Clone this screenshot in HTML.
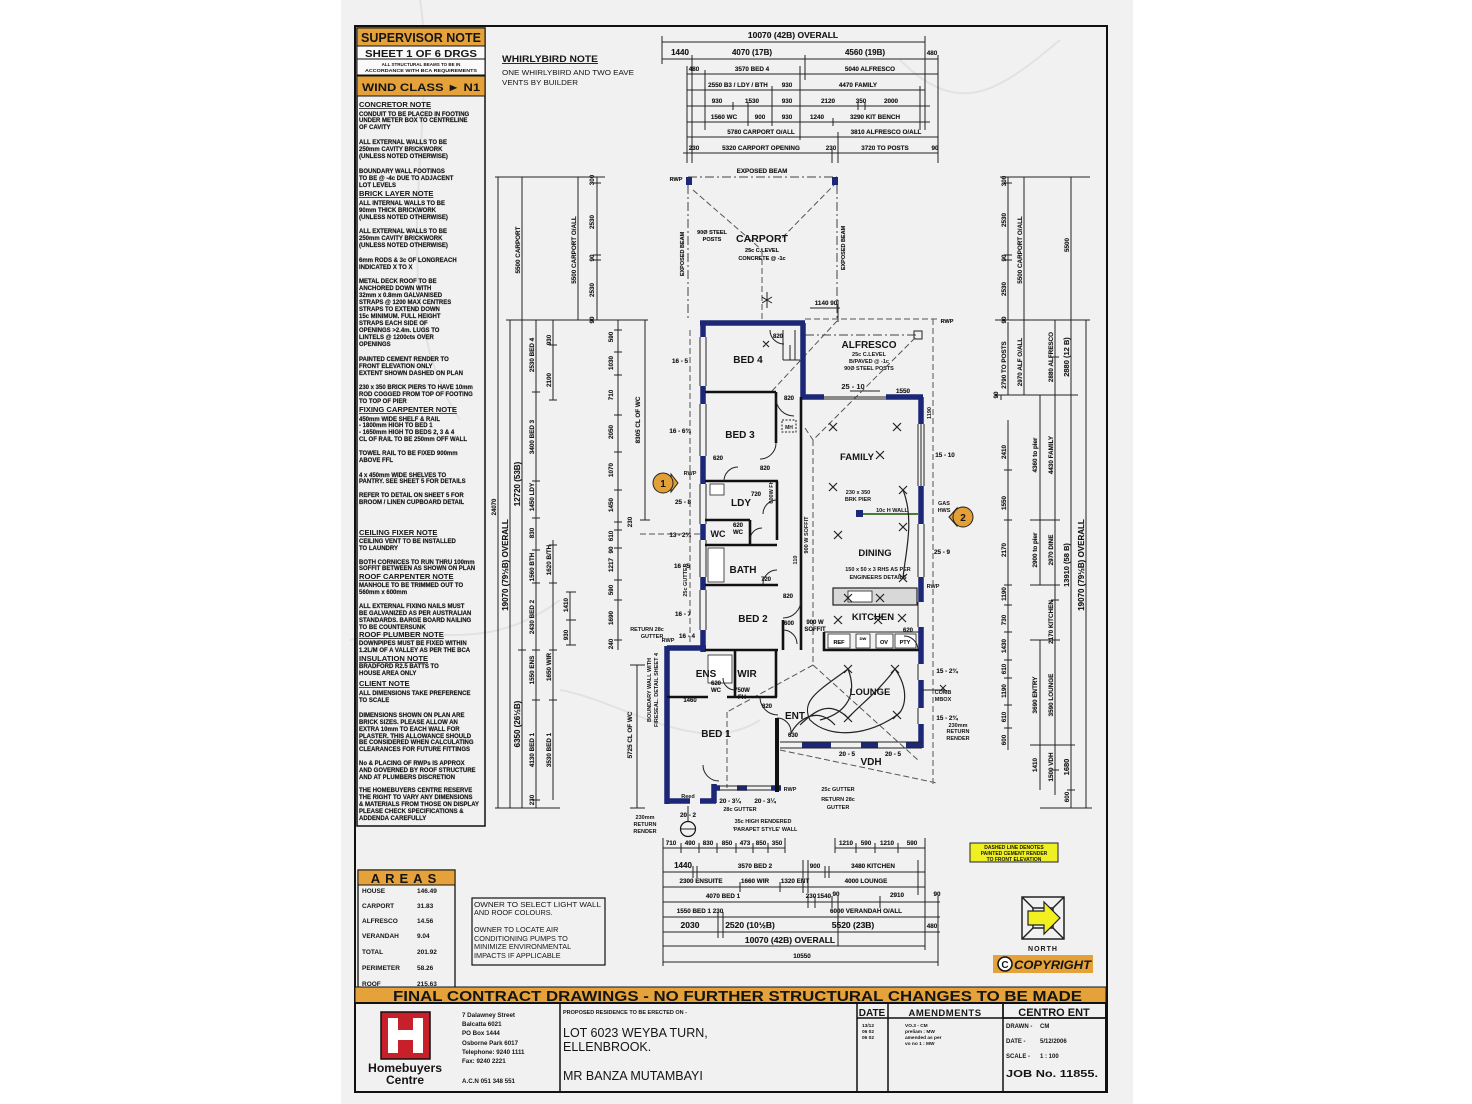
<!DOCTYPE html>
<html><head><meta charset="utf-8">
<style>
html,body{margin:0;padding:0;background:#fff;width:1472px;height:1104px;overflow:hidden}
svg{display:block}
text{font-family:"Liberation Sans",sans-serif;font-weight:bold;fill:#151515}
.n{font-size:6px;stroke:#151515;stroke-width:0.15}
.h{font-size:7.6px;text-decoration:underline}
.d{font-size:6.3px;stroke:#151515;stroke-width:0.12}
.d7{font-size:7.5px}
.r{font-size:10px}
.nw{font-weight:normal}
.w{stroke:#1c2777;stroke-width:5.5;fill:none}
.i{stroke:#111;stroke-width:2.6;fill:none}
.l{stroke:#222;stroke-width:1;fill:none}
.t{stroke:#222;stroke-width:1;fill:none}
.ds{stroke:#555;stroke-width:1;fill:none;stroke-dasharray:6 3}
.dd{stroke:#444;stroke-width:1;fill:none;stroke-dasharray:9 3 2 3}
.x{stroke:#222;stroke-width:1.2;fill:none}
</style></head><body>
<svg width="1472" height="1104" viewBox="0 0 1472 1104" xmlns="http://www.w3.org/2000/svg">
<rect x="0" y="0" width="1472" height="1104" fill="#fff"/>
<rect x="341" y="0" width="792" height="1104" fill="#f1f1f1"/>
<path d="M420,0 C440,120 380,300 460,420 M900,60 C960,120 1000,90 1060,40 M350,640 C420,620 480,660 560,600 M560,690 C620,700 700,760 760,720" stroke="#e2e2e2" stroke-width="2" fill="none"/>

<!-- outer border -->
<rect x="355" y="26" width="752" height="1066" fill="none" stroke="#111" stroke-width="2"/>

<!-- LEFT COLUMN -->
<rect x="357" y="28" width="128" height="798" fill="none" stroke="#111" stroke-width="1.5"/>
<rect x="357" y="28" width="128" height="18" fill="#e6a23a" stroke="#111" stroke-width="1"/>
<text x="361" y="42" style="font-size:12.5px" textLength="120" lengthAdjust="spacingAndGlyphs">SUPERVISOR NOTE</text>
<rect x="357" y="46" width="128" height="13" fill="#fafafa" stroke="#111" stroke-width="1"/>
<text x="421" y="57" text-anchor="middle" style="font-size:10px" textLength="112" lengthAdjust="spacingAndGlyphs">SHEET 1 OF 6 DRGS</text>
<rect x="357" y="59" width="128" height="16" fill="#fafafa" stroke="#111" stroke-width="1"/>
<text x="421" y="66" text-anchor="middle" style="font-size:4.5px">ALL STRUCTURAL BEAMS TO BE IN</text>
<text x="421" y="72" text-anchor="middle" style="font-size:4.5px" textLength="112" lengthAdjust="spacingAndGlyphs">ACCORDANCE WITH BCA REQUIREMENTS</text>
<rect x="357" y="76" width="128" height="20" fill="#e6a23a" stroke="#111" stroke-width="1"/>
<text x="362" y="91" style="font-size:11px" textLength="118" lengthAdjust="spacingAndGlyphs">WIND CLASS ► N1</text>

<text x="359" y="107" class="h">CONCRETOR NOTE</text>
<text class="n"><tspan x="359" y="116">CONDUIT TO BE PLACED IN FOOTING</tspan><tspan x="359" y="122">UNDER METER BOX TO CENTRELINE</tspan><tspan x="359" y="129">OF CAVITY</tspan>
<tspan x="359" y="144">ALL EXTERNAL WALLS TO BE</tspan><tspan x="359" y="151">250mm CAVITY BRICKWORK</tspan><tspan x="359" y="158">(UNLESS NOTED OTHERWISE)</tspan>
<tspan x="359" y="173">BOUNDARY WALL FOOTINGS</tspan><tspan x="359" y="180">TO BE @ -4c DUE TO ADJACENT</tspan><tspan x="359" y="187">LOT LEVELS</tspan></text>
<text x="359" y="196" class="h">BRICK LAYER NOTE</text>
<text class="n"><tspan x="359" y="205">ALL INTERNAL WALLS TO BE</tspan><tspan x="359" y="212">90mm THICK BRICKWORK</tspan><tspan x="359" y="219">(UNLESS NOTED OTHERWISE)</tspan>
<tspan x="359" y="233">ALL EXTERNAL WALLS TO BE</tspan><tspan x="359" y="240">250mm CAVITY BRICKWORK</tspan><tspan x="359" y="247">(UNLESS NOTED OTHERWISE)</tspan>
<tspan x="359" y="262">6mm RODS &amp; 3c OF LONGREACH</tspan><tspan x="359" y="269">INDICATED X TO X</tspan>
<tspan x="359" y="283">METAL DECK ROOF TO BE</tspan><tspan x="359" y="290">ANCHORED DOWN WITH</tspan><tspan x="359" y="297">32mm x 0.8mm GALVANISED</tspan><tspan x="359" y="304">STRAPS @ 1200 MAX CENTRES</tspan><tspan x="359" y="311">STRAPS TO EXTEND DOWN</tspan><tspan x="359" y="318">15c MINIMUM. FULL HEIGHT</tspan><tspan x="359" y="325">STRAPS EACH SIDE OF</tspan><tspan x="359" y="332">OPENINGS &gt;2.4m. LUGS TO</tspan><tspan x="359" y="339">LINTELS @ 1200cts OVER</tspan><tspan x="359" y="346">OPENINGS</tspan>
<tspan x="359" y="361">PAINTED CEMENT RENDER TO</tspan><tspan x="359" y="368">FRONT ELEVATION ONLY</tspan><tspan x="359" y="375">EXTENT SHOWN DASHED ON PLAN</tspan>
<tspan x="359" y="389">230 x 350 BRICK PIERS TO HAVE 10mm</tspan><tspan x="359" y="396">ROD COGGED FROM TOP OF FOOTING</tspan><tspan x="359" y="403">TO TOP OF PIER</tspan></text>
<text x="359" y="412" class="h">FIXING CARPENTER NOTE</text>
<text class="n"><tspan x="359" y="421">450mm WIDE SHELF &amp; RAIL</tspan><tspan x="359" y="427">- 1800mm HIGH TO BED 1</tspan><tspan x="359" y="434">- 1650mm HIGH TO BEDS 2, 3 &amp; 4</tspan><tspan x="359" y="441">CL OF RAIL TO BE 250mm OFF WALL</tspan>
<tspan x="359" y="455">TOWEL RAIL TO BE FIXED 900mm</tspan><tspan x="359" y="462">ABOVE FFL</tspan>
<tspan x="359" y="477">4 x 450mm WIDE SHELVES TO</tspan><tspan x="359" y="483">PANTRY. SEE SHEET 5 FOR DETAILS</tspan>
<tspan x="359" y="497">REFER TO DETAIL ON SHEET 5 FOR</tspan><tspan x="359" y="504">BROOM / LINEN CUPBOARD DETAIL</tspan></text>
<text x="359" y="535" class="h">CEILING FIXER NOTE</text>
<text class="n"><tspan x="359" y="543">CEILING VENT TO BE INSTALLED</tspan><tspan x="359" y="550">TO LAUNDRY</tspan>
<tspan x="359" y="564">BOTH CORNICES TO RUN THRU 100mm</tspan><tspan x="359" y="570">SOFFIT BETWEEN AS SHOWN ON PLAN</tspan></text>
<text x="359" y="579" class="h">ROOF CARPENTER NOTE</text>
<text class="n"><tspan x="359" y="587">MANHOLE TO BE TRIMMED OUT TO</tspan><tspan x="359" y="594">560mm x 600mm</tspan>
<tspan x="359" y="608">ALL EXTERNAL FIXING NAILS MUST</tspan><tspan x="359" y="615">BE GALVANIZED AS PER AUSTRALIAN</tspan><tspan x="359" y="622">STANDARDS. BARGE BOARD NAILING</tspan><tspan x="359" y="629">TO BE COUNTERSUNK</tspan></text>
<text x="359" y="637" class="h">ROOF PLUMBER NOTE</text>
<text class="n"><tspan x="359" y="645">DOWNPIPES MUST BE FIXED WITHIN</tspan><tspan x="359" y="652">1.2L/M OF A VALLEY AS PER THE BCA</tspan></text>
<text x="359" y="661" class="h">INSULATION NOTE</text>
<text class="n"><tspan x="359" y="668">BRADFORD R2.5 BATTS TO</tspan><tspan x="359" y="675">HOUSE AREA ONLY</tspan></text>
<text x="359" y="686" class="h">CLIENT NOTE</text>
<text class="n"><tspan x="359" y="695">ALL DIMENSIONS TAKE PREFERENCE</tspan><tspan x="359" y="702">TO SCALE</tspan>
<tspan x="359" y="717">DIMENSIONS SHOWN ON PLAN ARE</tspan><tspan x="359" y="724">BRICK SIZES. PLEASE ALLOW AN</tspan><tspan x="359" y="731">EXTRA 10mm TO EACH WALL FOR</tspan><tspan x="359" y="738">PLASTER. THIS ALLOWANCE SHOULD</tspan><tspan x="359" y="744">BE CONSIDERED WHEN CALCULATING</tspan><tspan x="359" y="751">CLEARANCES FOR FUTURE FITTINGS</tspan>
<tspan x="359" y="765">No &amp; PLACING OF RWPs IS APPROX</tspan><tspan x="359" y="772">AND GOVERNED BY ROOF STRUCTURE</tspan><tspan x="359" y="779">AND AT PLUMBERS DISCRETION</tspan>
<tspan x="359" y="792">THE HOMEBUYERS CENTRE RESERVE</tspan><tspan x="359" y="799">THE RIGHT TO VARY ANY DIMENSIONS</tspan><tspan x="359" y="806">&amp; MATERIALS FROM THOSE ON DISPLAY</tspan><tspan x="359" y="813">PLEASE CHECK SPECIFICATIONS &amp;</tspan><tspan x="359" y="820">ADDENDA CAREFULLY</tspan></text>

<!-- WHIRLYBIRD -->
<text x="502" y="62" style="font-size:9px;text-decoration:underline" textLength="96" lengthAdjust="spacingAndGlyphs">WHIRLYBIRD NOTE</text>
<text x="502" y="75" class="nw" style="font-size:7.5px" textLength="132" lengthAdjust="spacingAndGlyphs">ONE WHIRLYBIRD AND TWO EAVE</text>
<text x="502" y="85" class="nw" style="font-size:7.5px" textLength="76" lengthAdjust="spacingAndGlyphs">VENTS BY BUILDER</text>

<!-- TOP DIMENSIONS -->
<g class="t">
<path d="M662,42 H925 M662,59 H938 M687,74 H938 M687,90 H925 M687,106 H930 M687,122 H930 M687,137 H938 M683,153 H938"/>
<path d="M662,36 V64 M925,36 V130 M692,55 V163 M687,66 V163 M705,70 V130 M805,55 V80 M800,66 V140 M938,55 V163 M838,132 V163 M832,148 V163 M772,86 V126 M748,102 V126 M733,102 V110 M858,102 V110 M865,102 V110 M920,86 V130 M833,118 V126"/>
</g>
<g class="d" text-anchor="middle">
<text x="793" y="38" style="font-size:8.5px">10070 (42B) OVERALL</text>
<text x="680" y="55" style="font-size:8px">1440</text><text x="752" y="55" style="font-size:8px">4070 (17B)</text><text x="865" y="55" style="font-size:8px">4560 (19B)</text><text x="932" y="55">480</text>
<text x="694" y="71">480</text><text x="752" y="71">3570 BED 4</text><text x="870" y="71">5040 ALFRESCO</text>
<text x="738" y="87">2550 B3 / LDY / BTH</text><text x="787" y="87">930</text><text x="858" y="87">4470 FAMILY</text>
<text x="717" y="103">930</text><text x="752" y="103">1530</text><text x="787" y="103">930</text><text x="828" y="103">2120</text><text x="861" y="103">350</text><text x="891" y="103">2000</text>
<text x="724" y="119">1560 WC</text><text x="760" y="119">900</text><text x="787" y="119">930</text><text x="817" y="119">1240</text><text x="875" y="119">3290 KIT BENCH</text>
<text x="761" y="134">5780 CARPORT O/ALL</text><text x="886" y="134">3810 ALFRESCO O/ALL</text>
<text x="694" y="150">230</text><text x="761" y="150">5320 CARPORT OPENING</text><text x="831" y="150">230</text><text x="885" y="150">3720 TO POSTS</text><text x="935" y="150">90</text>
</g>

<!-- CARPORT -->
<path class="dd" d="M688,177 H837 M688,185 V320 M837,185 V320"/>
<path class="ds" d="M693,190 L762,250 M837,182 L780,240 M762,250 V320"/>
<rect x="686" y="177" width="6" height="8" fill="#1c2777"/>
<rect x="832" y="177" width="6" height="8" fill="#1c2777"/>
<text x="676" y="181" class="d" text-anchor="middle" style="font-size:5.5px">RWP</text>
<text x="762" y="173" class="d" text-anchor="middle">EXPOSED BEAM</text>
<text x="762" y="242" text-anchor="middle" style="font-size:10.5px">CARPORT</text>
<text x="762" y="252" class="d" text-anchor="middle" style="font-size:5.5px">25c C.LEVEL</text>
<text x="762" y="260" class="d" text-anchor="middle" style="font-size:5.5px">CONCRETE @ -1c</text>
<text x="712" y="234" class="d" text-anchor="middle" style="font-size:5.5px">90Ø STEEL</text>
<text x="712" y="241" class="d" text-anchor="middle" style="font-size:5.5px">POSTS</text>
<text transform="translate(684,254) rotate(-90)" class="d" text-anchor="middle" style="font-size:5.5px">EXPOSED BEAM</text>
<text transform="translate(845,248) rotate(-90)" class="d" text-anchor="middle" style="font-size:5.5px">EXPOSED BEAM</text>
<path class="l" d="M767,292 V308 M762,297 L772,303 M762,303 L772,297"/>
<text x="826" y="305" class="d" text-anchor="middle">1140 90</text>
<path class="t" d="M810,308 H840 M838,300 V322"/>

<!-- ALFRESCO -->
<path class="ds" d="M805,319 H937"/>
<path class="dd" d="M805,335 H917"/>
<rect x="914" y="331" width="8" height="8" fill="none" stroke="#222"/>
<text x="947" y="323" class="d" text-anchor="middle" style="font-size:5.5px">RWP</text>
<text x="869" y="348" text-anchor="middle" style="font-size:10px">ALFRESCO</text>
<text x="869" y="356" text-anchor="middle" style="font-size:5.5px">25c C.LEVEL</text>
<text x="869" y="363" text-anchor="middle" style="font-size:5.5px">B/PAVED @ -1c</text>
<text x="869" y="370" text-anchor="middle" style="font-size:5.5px">90Ø STEEL POSTS</text>
<text x="853" y="389" class="d7" text-anchor="middle">25 - 10</text>
<text x="903" y="393" class="d" text-anchor="middle">1550</text>
<path class="l" d="M850,391 H880"/>

<!-- roof hips / eaves -->
<path class="ds" d="M772,391 L837,321 M805,428 L813,440 L917,336 M813,440 V665 M933,319 V785 M690,330 V645 M813,665 L727,712 M727,712 V788 M813,665 L918,760 M780,750 L937,783 M640,534 H700"/>

<!-- WALLS (navy) -->
<path class="w" d="M700,323 H805 M803,323 V399 M801,397 H824 M886,397 H923 M921,397 V424 M921,486 V524 M921,577 V602 M921,627 V664 M921,680 V708 M921,724 V748 M802,745 H831 M861,745 H878 M906,745 H923"/>
<path class="w" d="M703,321 V337 M703,386 V404 M703,456 V484 M703,524 V540 M703,577 V590 M703,630 V652 M667,648 H706 M667,646 V804 M665,801 H690 M700,801 H716 M714,784 V803 M714,788 H720 M737,788 H747 M771,788 H781"/>
<path class="l" d="M700,337 V386 M706,337 V386 M700,404 V456 M706,404 V456 M700,484 V524 M706,484 V524 M700,540 V577 M706,540 V577 M700,590 V630 M706,590 V630 M921,424 V486 M918,424 V486 M924,424 V486 M918,524 V577 M924,524 V577 M824,397 H886 M824,399 H886 M780,742 H922 M780,748 H922 M720,786 H771 M720,790 H771 M918,602 V627 M918,664 V680 M918,708 V724"/>
<path d="M777,718 V792" stroke="#111" stroke-width="4" fill="none"/>

<!-- INTERIOR WALLS -->
<path class="i" d="M705,392 H776 M776,392 V443 M705,481 H778 M777,481 V540 M705,520 H750 M750,520 V545 M705,545 H777 M705,585 H778 M801,397 V650 M783,620 V650 M705,650 H778 M735,650 V697 M776,650 V697 M667,697 H708 M727,697 H777 M824,632 V650 H919"/>
<path class="l" d="M824,632 H919 M783,330 V360 M795,330 V360 M783,360 H800 M790,345 V360"/>
<rect x="833" y="588" width="84" height="17" fill="#d8d8d8" stroke="#222" stroke-width="1.2"/>
<rect x="848" y="591" width="24" height="11" fill="#fff" stroke="#222" stroke-width="0.8"/>
<g fill="#fff" stroke="#222" stroke-width="0.8">
<rect x="828" y="634" width="22" height="14"/><rect x="856" y="634" width="14" height="14"/><rect x="876" y="634" width="17" height="14"/><rect x="895" y="634" width="21" height="14"/>
<rect x="710" y="484" width="14" height="11"/><rect x="708" y="655" width="24" height="28"/>
<rect x="708" y="548" width="16" height="34"/>
</g>
<g class="d" text-anchor="middle" style="font-size:5.5px">
<text x="839" y="644">REF</text><text x="863" y="640" style="font-size:4px">DW</text><text x="884" y="644">OV</text><text x="905" y="644">PTY</text>
</g>
<rect x="782" y="420" width="14" height="12" fill="none" stroke="#222" stroke-dasharray="2 1.5"/>
<text x="789" y="429" text-anchor="middle" style="font-size:5px">MH</text>

<!-- door arcs -->
<g class="l">
<path d="M776,443 A16,16 0 0 1 760,459 M776,398 A18,18 0 0 0 794,416 M770,330 A14,14 0 0 0 784,344 M724,481 A14,14 0 0 1 738,467 M777,500 A14,14 0 0 0 763,514 M750,540 A12,12 0 0 1 762,528 M777,570 A14,14 0 0 0 763,584 M801,600 A18,18 0 0 1 783,618 M783,630 A14,14 0 0 1 797,644 M735,690 A12,12 0 0 1 723,678 M760,697 A18,18 0 0 0 778,715 M777,718 A14,14 0 0 1 791,732 M918,650 A14,14 0 0 0 904,636 M703,765 A16,16 0 0 0 719,781"/>
</g>
<g class="d" text-anchor="middle" style="font-size:6px">
<text x="778" y="338">820</text><text x="789" y="400">820</text><text x="765" y="470">820</text><text x="718" y="460">620</text><text x="756" y="496">720</text>
<text x="738" y="527">620</text><text x="738" y="534">WC</text><text x="766" y="581">720</text><text x="788" y="598">820</text><text x="789" y="625">600</text>
<text x="716" y="685">620</text><text x="716" y="692">WC</text><text x="742" y="692">750W</text><text x="742" y="699">FH</text><text x="767" y="708">820</text><text x="793" y="737">630</text><text x="908" y="632">620</text>
<text x="815" y="624">900 W</text><text x="815" y="631">SOFFIT</text><text x="690" y="702">1460</text>
</g>
<text transform="translate(808,535) rotate(-90)" text-anchor="middle" style="font-size:5.5px">900 W SOFFIT</text>
<text transform="translate(797,560) rotate(-90)" text-anchor="middle" style="font-size:5.5px">110</text>
<text transform="translate(773,492) rotate(-90)" text-anchor="middle" style="font-size:5.5px">600W FH</text>

<!-- ROOM LABELS -->
<g text-anchor="middle" style="font-size:10px">
<text x="748" y="363">BED 4</text><text x="740" y="438">BED 3</text><text x="741" y="506">LDY</text><text x="718" y="537" style="font-size:9px">WC</text>
<text x="743" y="573">BATH</text><text x="753" y="622">BED 2</text><text x="706" y="677">ENS</text><text x="747" y="677">WIR</text>
<text x="716" y="737">BED 1</text><text x="795" y="719">ENT</text><text x="871" y="765">VDH</text>
<text x="873" y="620" style="font-size:9.5px">KITCHEN</text><text x="870" y="695" style="font-size:9.5px">LOUNGE</text>
<text x="857" y="460" style="font-size:9.5px">FAMILY</text><text x="875" y="556" style="font-size:9.5px">DINING</text>
</g>
<g text-anchor="middle" style="font-size:5.5px">
<text x="878" y="571">150 x 50 x 3 RHS AS PER</text><text x="878" y="579">ENGINEERS DETAILS</text>
<text x="858" y="494">230 x 350</text><text x="858" y="501">BRK PIER</text>
<text x="892" y="512">10c H WALL</text>
<text x="944" y="505">GAS</text><text x="944" y="512">HWS</text>
<text x="943" y="694">COMB</text><text x="943" y="701">MBOX</text>
<text x="958" y="727">230mm</text><text x="958" y="733">RETURN</text><text x="958" y="740">RENDER</text>
<text x="645" y="819">230mm</text><text x="645" y="826">RETURN</text><text x="645" y="833">RENDER</text>
<text x="838" y="791">25c GUTTER</text><text x="838" y="801">RETURN 28c</text><text x="838" y="809">GUTTER</text>
<text x="740" y="811">28c GUTTER</text>
<text x="763" y="823">35c HIGH RENDERED</text><text x="765" y="831">'PARAPET STYLE' WALL</text>
<text x="647" y="631">RETURN 28c</text><text x="652" y="638">GUTTER</text>
<text x="668" y="642">RWP</text><text x="690" y="475">RWP</text><text x="933" y="588">RWP</text><text x="790" y="791">RWP</text>
<text x="688" y="798">Reed</text>
</g>
<path d="M860,514 H918" stroke="#4a7a3a" stroke-width="2"/>
<rect x="856" y="510" width="7" height="7" fill="#1c2777"/>
<text transform="translate(687,580) rotate(-90)" text-anchor="middle" style="font-size:5.5px">25c GUTTER</text>
<text transform="translate(651,690) rotate(-90)" text-anchor="middle" style="font-size:5.5px">BOUNDARY WALL WITH</text>
<text transform="translate(658,690) rotate(-90)" text-anchor="middle" style="font-size:5.5px">FIRESEAL. DETAIL SHEET 4</text>
<text transform="translate(931,413) rotate(-90)" text-anchor="middle" style="font-size:5.5px">1190</text>

<!-- small plan dims -->
<g class="d" text-anchor="middle">
<text x="680" y="363">16 - 5</text><text x="680" y="433">16 - 6¾</text><text x="683" y="504">25 - 8</text><text x="680" y="537">13 - 2¾</text>
<text x="682" y="568">16 - 5</text><text x="683" y="616">16 - 7</text><text x="687" y="638">16 - 4</text>
<text x="945" y="457">15 - 10</text><text x="942" y="554">25 - 9</text><text x="947" y="673">15 - 2¾</text><text x="947" y="720">15 - 2¾</text>
<text x="847" y="756">20 - 5</text><text x="893" y="756">20 - 5</text><text x="730" y="803">20 - 3¼</text><text x="765" y="803">20 - 3¼</text><text x="688" y="817">20 - 2</text>
</g>
<circle cx="688" cy="829" r="7.5" fill="none" stroke="#111" stroke-width="1.2"/>
<path class="l" d="M680.5,829 H695.5 M688,806 V821"/>

<!-- light symbols -->
<g class="x">
<path d="M829,423 l8,8 m0,-8 l-8,8 M893,423 l8,8 m0,-8 l-8,8 M876,451 l8,8 m0,-8 l-8,8 M829,483 l8,8 m0,-8 l-8,8 M899,486 l8,8 m0,-8 l-8,8 M834,531 l8,8 m0,-8 l-8,8 M899,523 l8,8 m0,-8 l-8,8 M899,574 l8,8 m0,-8 l-8,8 M834,616 l8,8 m0,-8 l-8,8 M874,616 l8,8 m0,-8 l-8,8 M898,614 l8,8 m0,-8 l-8,8 M844,594 l8,8 m0,-8 l-8,8 M876,594 l8,8 m0,-8 l-8,8 M844,665 l8,8 m0,-8 l-8,8 M891,665 l8,8 m0,-8 l-8,8 M844,714 l8,8 m0,-8 l-8,8 M893,711 l8,8 m0,-8 l-8,8 M763,341 l6,6 m0,-6 l-6,6"/>
<path d="M903,490 C915,520 905,555 903,578 M848,669 C820,690 800,700 810,720 C830,740 870,735 897,715 M848,669 C860,700 840,715 820,720 M895,669 C880,690 860,705 848,718 M895,669 C910,690 905,710 897,715 M800,725 C815,710 830,700 848,718 M790,735 C800,715 820,708 835,725"/>
</g>
<path class="l" d="M921,690 H945 M940,685 l6,6 m0,-6 l-6,6"/>

<!-- markers -->
<path d="M671,474 L678,483 L671,492 Z" fill="#e2a036" stroke="#222"/>
<circle cx="663" cy="483" r="10" fill="#e2a036" stroke="#222" stroke-width="1"/>
<text x="663" y="487" text-anchor="middle" style="font-size:10px">1</text>
<path d="M949,517 L957,508 L957,526 Z" fill="#e2a036" stroke="#222"/>
<circle cx="963" cy="517" r="10" fill="#e2a036" stroke="#222" stroke-width="1"/>
<text x="963" y="521" text-anchor="middle" style="font-size:10px">2</text>

<!-- LEFT DIMENSIONS -->
<g class="t">
<path d="M498,177 V808 M510,320 V808 M522,177 V808 M536,320 V808 M553,320 V400 M553,540 V650 M553,650 V800 M570,592 V645 M578,177 V320 M597,177 V320 M618,320 V650 M645,320 V520 M637,665 V808"/>
<path d="M495,177 H605 M506,320 H648 M495,808 H560 M630,808 H645 M630,665 H645 M640,520 H650"/>
<path d="M532,392 h8 M532,481 h8 M532,518 h8 M532,550 h8 M532,583 h8 M532,650 h8 M532,700 h8 M532,800 h8 M549,345 h8 M549,400 h8 M549,545 h8 M549,583 h8 M549,650 h8 M549,700 h8 M566,592 h10 M566,620 h10 M566,645 h10 M593,183 h8 M593,255 h8 M593,260 h8 M614,330 h8 M614,352 h8 M614,375 h8 M614,415 h8 M614,452 h8 M614,490 h8 M614,522 h8 M614,530 h8 M614,548 h8 M614,580 h8 M614,600 h8 M614,640 h8 M518,650 h8"/>
</g>
<g class="d" text-anchor="middle">
<text transform="translate(496,507) rotate(-90)" style="font-size:6px">24070</text>
<text transform="translate(508,565) rotate(-90)" style="font-size:8px">19070 (79½B) OVERALL</text>
<text transform="translate(520,250) rotate(-90)">5500 CARPORT</text>
<text transform="translate(520,484) rotate(-90)" style="font-size:8px">12720 (53B)</text>
<text transform="translate(520,724) rotate(-90)" style="font-size:8px">6350 (26½B)</text>
<text transform="translate(534,355) rotate(-90)">2530 BED 4</text>
<text transform="translate(534,437) rotate(-90)">3400 BED 3</text>
<text transform="translate(534,497) rotate(-90)">1450 LDY</text>
<text transform="translate(534,533) rotate(-90)">830</text>
<text transform="translate(534,567) rotate(-90)">1560 BTH</text>
<text transform="translate(534,617) rotate(-90)">2430 BED 2</text>
<text transform="translate(534,670) rotate(-90)">1550 ENS</text>
<text transform="translate(534,750) rotate(-90)">4130 BED 1</text>
<text transform="translate(534,800) rotate(-90)">230</text>
<text transform="translate(551,340) rotate(-90)">930</text>
<text transform="translate(551,380) rotate(-90)">2100</text>
<text transform="translate(551,560) rotate(-90)">1620 B/TH</text>
<text transform="translate(568,605) rotate(-90)">1410</text>
<text transform="translate(568,635) rotate(-90)">930</text>
<text transform="translate(551,667) rotate(-90)">1650 WIR</text>
<text transform="translate(551,750) rotate(-90)">3530 BED 1</text>
<text transform="translate(576,250) rotate(-90)">5500 CARPORT O/ALL</text>
<text transform="translate(594,180) rotate(-90)">300</text>
<text transform="translate(594,222) rotate(-90)">2530</text>
<text transform="translate(594,258) rotate(-90)">90</text>
<text transform="translate(594,290) rotate(-90)">2530</text>
<text transform="translate(594,320) rotate(-90)">90</text>
<text transform="translate(613,337) rotate(-90)">590</text>
<text transform="translate(613,363) rotate(-90)">1030</text>
<text transform="translate(613,395) rotate(-90)">710</text>
<text transform="translate(613,432) rotate(-90)">2050</text>
<text transform="translate(613,470) rotate(-90)">1070</text>
<text transform="translate(613,505) rotate(-90)">1450</text>
<text transform="translate(613,536) rotate(-90)">610</text>
<text transform="translate(613,550) rotate(-90)">90</text>
<text transform="translate(613,565) rotate(-90)">1217</text>
<text transform="translate(613,590) rotate(-90)">590</text>
<text transform="translate(613,618) rotate(-90)">1690</text>
<text transform="translate(613,644) rotate(-90)">240</text>
<text transform="translate(632,522) rotate(-90)">230</text>
<text transform="translate(640,420) rotate(-90)">8305 CL OF WC</text>
<text transform="translate(632,735) rotate(-90)">5725 CL OF WC</text>
</g>

<!-- RIGHT DIMENSIONS -->
<g class="t">
<path d="M1008,177 V320 M1008,322 V395 M1008,420 V750 M1024,177 V320 M1024,320 V395 M1040,395 V585 M1040,640 V790 M1055,320 V795 M1071,177 V808 M1086,320 V808 M1001,395 V400"/>
<path d="M1000,177 H1090 M995,320 H1090 M995,395 H1078 M1040,808 H1092 M1030,745 H1075 M1030,640 H1060 M1030,585 H1060 M1030,520 H1060"/>
<path d="M1004,183 h8 M1004,255 h8 M1004,260 h8 M1004,470 h8 M1004,520 h8 M1004,585 h8 M1004,605 h8 M1004,632 h8 M1004,660 h8 M1004,678 h8 M1004,705 h8 M1004,728 h8 M1051,357 h8 M1051,600 h8 M1051,770 h8 M1067,790 h8"/>
</g>
<g class="d" text-anchor="middle">
<text transform="translate(1006,181) rotate(-90)">300</text>
<text transform="translate(1006,220) rotate(-90)">2530</text>
<text transform="translate(1006,258) rotate(-90)">90</text>
<text transform="translate(1006,289) rotate(-90)">2530</text>
<text transform="translate(1006,320) rotate(-90)">90</text>
<text transform="translate(1006,365) rotate(-90)">2790 TO POSTS</text>
<text transform="translate(998,395) rotate(-90)">90</text>
<text transform="translate(1006,452) rotate(-90)">2410</text>
<text transform="translate(1006,503) rotate(-90)">1550</text>
<text transform="translate(1006,550) rotate(-90)">2170</text>
<text transform="translate(1006,594) rotate(-90)">1190</text>
<text transform="translate(1006,620) rotate(-90)">730</text>
<text transform="translate(1006,646) rotate(-90)">1430</text>
<text transform="translate(1006,669) rotate(-90)">610</text>
<text transform="translate(1006,691) rotate(-90)">1190</text>
<text transform="translate(1006,717) rotate(-90)">610</text>
<text transform="translate(1006,740) rotate(-90)">600</text>
<text transform="translate(1022,250) rotate(-90)">5500 CARPORT O/ALL</text>
<text transform="translate(1022,362) rotate(-90)">2970 ALF O/ALL</text>
<text transform="translate(1037,455) rotate(-90)">4360 to pier</text>
<text transform="translate(1037,550) rotate(-90)">2900 to pier</text>
<text transform="translate(1037,695) rotate(-90)">3690 ENTRY</text>
<text transform="translate(1037,765) rotate(-90)">1410</text>
<text transform="translate(1053,357) rotate(-90)">2880 ALFRESCO</text>
<text transform="translate(1053,455) rotate(-90)">4430 FAMILY</text>
<text transform="translate(1053,550) rotate(-90)">2970 DINE</text>
<text transform="translate(1053,622) rotate(-90)">2170 KITCHEN</text>
<text transform="translate(1053,695) rotate(-90)">3590 LOUNGE</text>
<text transform="translate(1053,767) rotate(-90)">1500 VDH</text>
<text transform="translate(1069,245) rotate(-90)">5500</text>
<text transform="translate(1069,357) rotate(-90)" style="font-size:7.5px">2880 (12 B)</text>
<text transform="translate(1069,565) rotate(-90)" style="font-size:7.5px">13910 (58 B)</text>
<text transform="translate(1069,767) rotate(-90)" style="font-size:7.5px">1680</text>
<text transform="translate(1069,797) rotate(-90)">600</text>
<text transform="translate(1084,565) rotate(-90)" style="font-size:8px">19070 (79½B) OVERALL</text>
</g>

<!-- BOTTOM DIMENSIONS -->
<g class="t">
<path d="M663,848 H785 M835,848 H925 M663,872 H925 M663,887 H925 M663,902 H940 M663,917 H940 M663,932 H940 M663,946 H925 M663,962 H938"/>
<path d="M663,838 V966 M681,843 V853 M699,843 V853 M717,843 V853 M736,843 V853 M753,843 V853 M768,843 V853 M785,838 V853 M835,838 V853 M856,843 V853 M875,843 V853 M898,843 V853 M925,838 V950 M693,866 V878 M697,866 V878 M803,860 V893 M808,860 V893 M825,866 V878 M829,866 V878 M740,882 V892 M780,882 V892 M918,860 V895 M808,896 V908 M815,896 V908 M832,896 V908 M838,896 V908 M880,896 V908 M938,896 V966 M838,908 V946 M718,912 V938 M723,912 V938 M938,917 V936"/>
</g>
<g class="d" text-anchor="middle">
<text x="671" y="845">710</text><text x="690" y="845">490</text><text x="708" y="845">830</text><text x="727" y="845">850</text><text x="745" y="845">473</text><text x="761" y="845">850</text><text x="777" y="845">350</text>
<text x="846" y="845">1210</text><text x="866" y="845">590</text><text x="887" y="845">1210</text><text x="912" y="845">590</text>
<text x="683" y="868" style="font-size:8px">1440</text><text x="755" y="868">3570 BED 2</text><text x="815" y="868">900</text><text x="873" y="868">3480 KITCHEN</text>
<text x="701" y="883">2300 ENSUITE</text><text x="755" y="883">1660 WIR</text><text x="795" y="883">1320 ENT</text><text x="866" y="883">4000 LOUNGE</text>
<text x="723" y="898">4070 BED 1</text><text x="811" y="898">230</text><text x="824" y="898">1540</text><text x="836" y="896">90</text><text x="897" y="897">2910</text><text x="937" y="896">90</text>
<text x="700" y="913">1550 BED 1 230</text><text x="866" y="913">6000 VERANDAH O/ALL</text>
<text x="690" y="928" style="font-size:8.5px">2030</text><text x="750" y="928" style="font-size:8.5px">2520 (10½B)</text><text x="853" y="928" style="font-size:8.5px">5520 (23B)</text><text x="932" y="928">480</text>
<text x="790" y="943" style="font-size:8.5px">10070 (42B) OVERALL</text>
<text x="802" y="958">10550</text>
</g>

<!-- Owner note -->
<rect x="472" y="898" width="133" height="67" fill="none" stroke="#111" stroke-width="1.2"/>
<g style="font-size:7.3px">
<text class="nw" x="474" y="907" textLength="127" lengthAdjust="spacingAndGlyphs">OWNER TO SELECT LIGHT WALL</text>
<text class="nw" x="474" y="915">AND ROOF COLOURS.</text>
<text class="nw" x="474" y="932">OWNER TO LOCATE AIR</text>
<text class="nw" x="474" y="941">CONDITIONING PUMPS TO</text>
<text class="nw" x="474" y="949">MINIMIZE ENVIRONMENTAL</text>
<text class="nw" x="474" y="958">IMPACTS IF APPLICABLE</text>
</g>

<!-- dashed line note -->
<rect x="970" y="843" width="88" height="19" fill="#eef024" stroke="#222" stroke-width="1"/>
<g text-anchor="middle" style="font-size:5px">
<text x="1014" y="849">DASHED LINE DENOTES</text><text x="1014" y="855">PAINTED CEMENT RENDER</text><text x="1014" y="861">TO FRONT ELEVATION</text>
</g>

<!-- North -->
<rect x="1022" y="897" width="42" height="42" fill="none" stroke="#222" stroke-width="1.5"/>
<path d="M1022,897 L1033,908 M1064,897 L1053,908 M1022,939 L1033,928 M1064,939 L1053,928 M1033,908 H1053 V928 H1033 Z" fill="none" stroke="#222" stroke-width="1.5"/>
<path d="M1028,911 H1044 V902 L1060,918 L1044,934 V925 H1028 Z" fill="#f2f020" stroke="#222" stroke-width="1.2"/>
<text x="1043" y="951" text-anchor="middle" style="font-size:7px;letter-spacing:1px">NORTH</text>
<rect x="993" y="955" width="100" height="18" fill="#e6a23a"/>
<circle cx="1005" cy="964" r="7" fill="#fff" stroke="#111" stroke-width="1.5"/>
<text x="1005" y="968" text-anchor="middle" style="font-size:10px">C</text>
<text x="1014" y="969" style="font-size:11.5px;font-style:italic" textLength="77" lengthAdjust="spacingAndGlyphs">COPYRIGHT</text>

<!-- AREAS -->
<rect x="358" y="870" width="97" height="118" fill="none" stroke="#111" stroke-width="1.3"/>
<rect x="358" y="870" width="97" height="15" fill="#e6a23a" stroke="#111" stroke-width="1"/>
<text x="406" y="883" text-anchor="middle" style="font-size:13px;letter-spacing:5px">AREAS</text>
<g style="font-size:6.5px">
<text x="362" y="893">HOUSE</text><text x="417" y="893">146.49</text>
<text x="362" y="908">CARPORT</text><text x="417" y="908">31.83</text>
<text x="362" y="923">ALFRESCO</text><text x="417" y="923">14.56</text>
<text x="362" y="938">VERANDAH</text><text x="417" y="938">9.04</text>
<text x="362" y="954">TOTAL</text><text x="417" y="954">201.92</text>
<text x="362" y="970">PERIMETER</text><text x="417" y="970">58.26</text>
<text x="362" y="986">ROOF</text><text x="417" y="986">215.63</text>
</g>

<!-- TITLE BLOCK -->
<rect x="355" y="987" width="751" height="16" fill="#e6a23a" stroke="#111" stroke-width="1"/>
<text x="393" y="1001" style="font-size:14.5px" textLength="689" lengthAdjust="spacingAndGlyphs">FINAL CONTRACT DRAWINGS - NO FURTHER STRUCTURAL CHANGES TO BE MADE</text>
<rect x="355" y="1003" width="751" height="89" fill="none" stroke="#111" stroke-width="2"/>
<path d="M560,1003 V1092 M857,1003 V1092 M888,1003 V1092 M1003,1003 V1092 M857,1018 H1106" stroke="#111" stroke-width="1.5" fill="none"/>
<rect x="381" y="1012" width="49" height="47" fill="#c8202a" stroke="#111" stroke-width="1.5"/>
<path d="M388,1018 H398 V1030 H413 V1018 H423 V1053 H413 V1040 H398 V1053 H388 Z" fill="#fff"/>
<text x="405" y="1072" text-anchor="middle" style="font-size:12px" textLength="74" lengthAdjust="spacingAndGlyphs">Homebuyers</text>
<text x="405" y="1084" text-anchor="middle" style="font-size:12px" textLength="38" lengthAdjust="spacingAndGlyphs">Centre</text>
<g style="font-size:6.2px">
<text x="462" y="1017">7 Dalawney Street</text><text x="462" y="1026">Balcatta 6021</text><text x="462" y="1035">PO Box 1444</text><text x="462" y="1045">Osborne Park 6017</text><text x="462" y="1054">Telephone: 9240 1111</text><text x="462" y="1063">Fax: 9240 2221</text><text x="462" y="1083">A.C.N 051 348 551</text>
</g>
<text x="563" y="1014" style="font-size:5.5px">PROPOSED RESIDENCE TO BE ERECTED ON -</text>
<g style="font-size:12.5px">
<text class="nw" x="563" y="1037">LOT 6023 WEYBA TURN,</text>
<text class="nw" x="563" y="1051">ELLENBROOK.</text>
<text class="nw" x="563" y="1080">MR BANZA MUTAMBAYI</text>
</g>
<text x="872" y="1016" text-anchor="middle" style="font-size:10px">DATE</text>
<text x="945" y="1016" text-anchor="middle" style="font-size:9.5px;letter-spacing:0.5px">AMENDMENTS</text>
<rect x="1003" y="1003" width="103" height="15" fill="none" stroke="#111" stroke-width="1.5"/>
<text x="1054" y="1016" text-anchor="middle" style="font-size:11px">CENTRO ENT</text>
<g style="font-size:4.8px">
<text x="862" y="1027">13/12</text><text x="862" y="1033">06 02</text><text x="862" y="1039">06 02</text>
<text x="905" y="1027">VO.3 - CM</text><text x="905" y="1033">preliam : MW</text><text x="905" y="1039">amended as per</text><text x="905" y="1045">vo no 1 : MW</text>
</g>
<g style="font-size:6px">
<text x="1006" y="1028">DRAWN -</text><text x="1040" y="1028">CM</text>
<text x="1006" y="1043">DATE -</text><text x="1040" y="1043">5/12/2006</text>
<text x="1006" y="1058">SCALE -</text><text x="1040" y="1058">1 : 100</text>
</g>
<text x="1006" y="1077" style="font-size:10.5px" textLength="92" lengthAdjust="spacingAndGlyphs">JOB No.  11855.</text>
</svg>
</body></html>
